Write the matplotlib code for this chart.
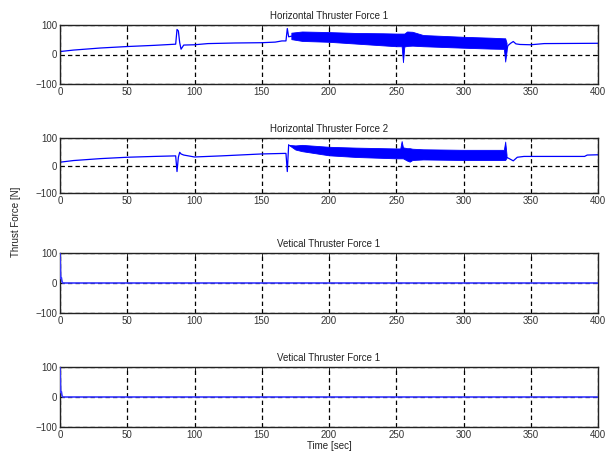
import matplotlib
matplotlib.use("Agg")
import matplotlib.pyplot as plt

plt.rcParams['font.family'] = ['Liberation Sans', 'DejaVu Sans']

# ---- data ----
titles = ["Horizontal Thruster Force 1", "Horizontal Thruster Force 2",
          "Vetical Thruster Force 1", "Vetical Thruster Force 1"]
xticks = [0, 50, 100, 150, 200, 250, 300, 350, 400]
yticks = [-100, 0, 100]

# Horizontal thruster 1
h1_pre_t = [0, 10, 30, 50, 70, 86, 87, 88, 89, 90, 92, 100, 110, 130, 150, 160, 165, 168, 169, 170, 172]
h1_pre_v = [10, 15, 22, 27, 31, 35, 85, 80, 40, 18, 32, 33, 37, 39, 40, 42, 46, 46, 88, 60, 62]
h1_band_t = [172, 180, 200, 220, 240, 250, 254, 255, 256, 258, 262, 270, 300, 320, 330, 331, 332]
h1_band_hi = [74, 78, 76, 73, 72, 71, 71, 71, 71, 78, 77, 66, 60, 57, 55, 55, 40]
h1_band_lo = [52, 46, 43, 37, 31, 28, 28, -26, 27, 29, 30, 28, 23, 20, 19, -24, 10]
h1_post_t = [332, 333, 335, 337, 339, 342, 350, 360, 400]
h1_post_v = [10, 30, 38, 44, 36, 34, 33, 37, 38]

# Horizontal thruster 2
h2_pre_t = [0, 10, 30, 50, 70, 86, 87, 88, 89, 90, 92, 100, 120, 150, 167, 168, 169, 170]
h2_pre_v = [12, 18, 25, 30, 33, 35, -22, 30, 48, 42, 38, 31, 35, 42, 44, 44, -22, 75]
h2_band_t = [170, 175, 180, 200, 220, 250, 253, 254, 255, 258, 260, 262, 270, 300, 330, 331, 332]
h2_band_hi = [75, 73, 75, 68, 65, 62, 62, 89, 66, 63, 63, 61, 59, 57, 57, 87, 40]
h2_band_lo = [75, 58, 52, 37, 31, 26, 26, 26, 26, 18, 14, 20, 22, 20, 20, 20, 28]
h2_post_t = [332, 334, 337, 340, 345, 350, 390, 392, 400]
h2_post_v = [30, 25, 17, 30, 33, 33, 33, 38, 39]

# Vertical thrusters
v_t = [0, 0.5, 1, 1.5, 2, 400]
v_v = [100, 15, 18, 5, 0, 0]

# ---- layout (pixel boxes: top, bottom) ----
W, H = 609, 463
boxes = [(25, 84), (138, 193), (253, 313), (367, 427)]
left_px, right_px = 60, 598

fig = plt.figure(figsize=(W / 100, H / 100), dpi=100)
axes = []
for (top, bot) in boxes:
    ax = fig.add_axes([left_px / W, 1 - bot / H, (right_px - left_px) / W, (bot - top) / H])
    axes.append(ax)

blue = '#0000ff'
lw = 0.9

ax = axes[0]
ax.plot(h1_pre_t, h1_pre_v, color=blue, lw=lw)
ax.fill_between(h1_band_t, h1_band_lo, h1_band_hi, color=blue, lw=0.6, edgecolor=blue)
ax.plot(h1_post_t, h1_post_v, color=blue, lw=lw)

ax = axes[1]
ax.plot(h2_pre_t, h2_pre_v, color=blue, lw=lw)
ax.fill_between(h2_band_t, h2_band_lo, h2_band_hi, color=blue, lw=0.6, edgecolor=blue)
ax.plot(h2_post_t, h2_post_v, color=blue, lw=lw)

for ax in axes[2:]:
    ax.plot(v_t, v_v, color='#3838ff', lw=1.2, zorder=3)

for ax, title in zip(axes, titles):
    ax.set_xlim(0, 400)
    ax.set_ylim(-100, 100)
    ax.set_xticks(xticks)
    ax.set_yticks(yticks)
    ax.grid(True, color='black', linestyle=(0, (3.5, 2.5)), linewidth=0.9)
    ax.set_axisbelow(True)
    ax.tick_params(direction='in', length=3, width=0.6, labelsize=7, pad=2,
                   top=True, right=True, colors='black', labelcolor='#333333')
    for s in ax.spines.values():
        s.set_linewidth(1.0)
        s.set_color('#222222')
    ax.set_title(title, fontsize=7, pad=4, color='#222222')

axes[-1].set_xlabel("Time [sec]", fontsize=7, labelpad=1, color='#222222')
fig.text(16 / W, 1 - 222 / H, "Thrust Force [N]", rotation=90, fontsize=7,
         ha='center', va='center', color='#222222')

fig.savefig("out.png", dpi=100)
